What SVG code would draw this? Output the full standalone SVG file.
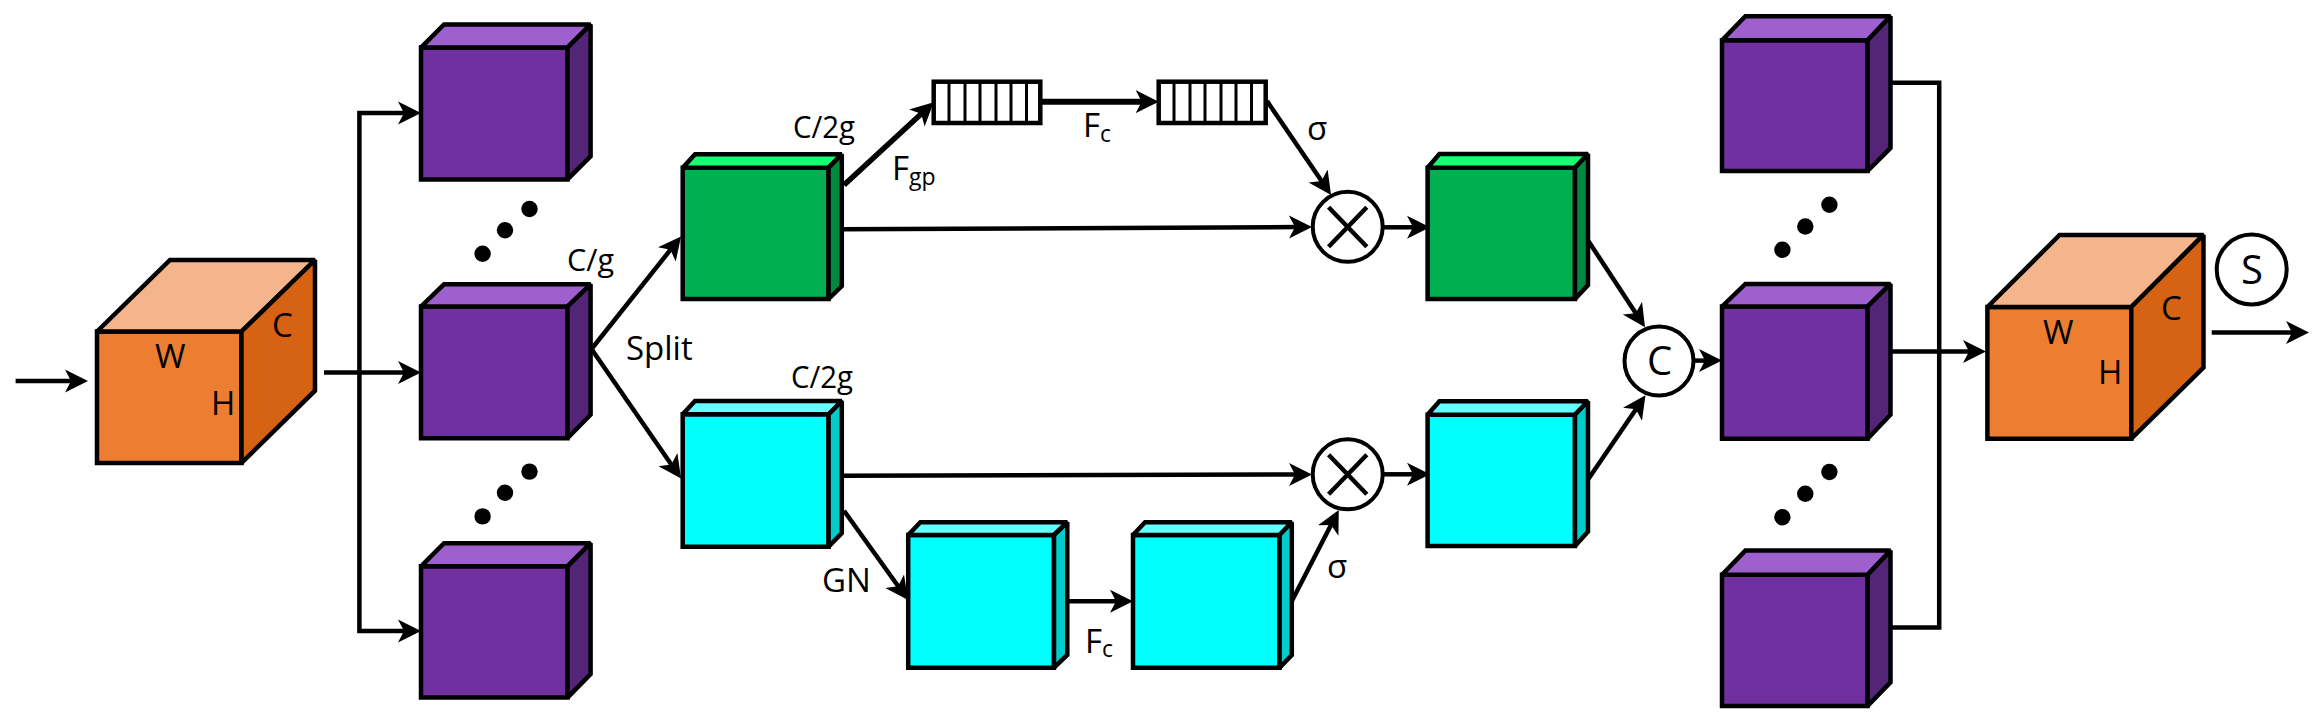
<svg xmlns="http://www.w3.org/2000/svg" width="2321" height="725" viewBox="0 0 2321 725">
<style>
text{font-family:"Open Sans","Noto Sans","DejaVu Sans",sans-serif;fill:#000;font-weight:400}
.s{stroke:#000;stroke-width:4.5;stroke-linejoin:miter;stroke-miterlimit:2}
.pf{fill:#7030A0}.pt{fill:#9E60CC}.pr{fill:#542477}
.of{fill:#ED7D31}.ot{fill:#F4B58C}.or{fill:#D66214}
.gf{fill:#00B050}.gt{fill:#14FF72}.gr{fill:#008A3F}
.cf{fill:#00FFFF}.ct{fill:#66FFFF}.cr{fill:#00CCCC}
.c{fill:none;stroke:#000;stroke-width:4.5}
.a{marker-end:url(#ah)}
.n{fill:#fff;stroke:#000;stroke-width:4}
.t33{font-size:33px}.t31{font-size:31px}.t22{font-size:23px}.t40{font-size:40px}
</style>
<defs>
<marker id="ah" markerUnits="userSpaceOnUse" markerWidth="26" markerHeight="26" refX="8" refY="12" orient="auto" viewBox="0 0 26 26">
<path d="M0 0.5L23 12L0 23.5L6 12Z" fill="#000"/>
</marker>
</defs>
<g id="nodes">
<g id="cube-in">
<path class="s of" d="M97 331.5H241.5V463H97Z"/>
<path class="s ot" d="M97 331.5L170 260H315L241.5 331.5Z"/>
<path class="s or" d="M241.5 331.5L315 260V390.7L241.5 463Z"/>
<text class="t33" x="155" y="367.5">W</text><text class="t33" x="211" y="414.7">H</text><text class="t33" x="272" y="336.6">C</text>
</g>
<g id="split-1">
<path class="s pf" d="M421 47.6H567.5V179.4H421Z"/>
<path class="s pt" d="M421 47.6L444 24.5H590.6L567.5 47.6Z"/>
<path class="s pr" d="M567.5 47.6L590.6 24.5V156.3L567.5 179.4Z"/>
</g>
<g id="split-2">
<path class="s pf" d="M421 306.5H567.5V438.3H421Z"/>
<path class="s pt" d="M421 306.5L444 284.3H590.6L567.5 306.5Z"/>
<path class="s pr" d="M567.5 306.5L590.6 284.3V414.7L567.5 438.3Z"/>
<text class="t31" x="567" y="271" textLength="47" lengthAdjust="spacingAndGlyphs">C/g</text>
</g>
<g id="split-3">
<path class="s pf" d="M421 566.3H567.5V697.6H421Z"/>
<path class="s pt" d="M421 566.3L444 543.2H590.6L567.5 566.3Z"/>
<path class="s pr" d="M567.5 566.3L590.6 543.2V674L567.5 697.6Z"/>
</g>
<g id="dots-left" fill="#000">
<circle cx="482.6" cy="253.8" r="8.2"/><circle cx="505" cy="230.2" r="8.2"/><circle cx="529.5" cy="209" r="8.2"/>
<circle cx="482.6" cy="516.4" r="8.2"/><circle cx="505" cy="492.8" r="8.2"/><circle cx="529.5" cy="471.6" r="8.2"/>
</g>
<g id="green-1">
<path class="s gf" d="M682.7 167.7H828.6V299H682.7Z"/>
<path class="s gt" d="M682.7 167.7L695 154.3H841.8L828.6 167.7Z"/>
<path class="s gr" d="M828.6 167.7L841.8 154.3V286L828.6 299Z"/>
<text class="t31" x="793" y="137.7" textLength="62" lengthAdjust="spacingAndGlyphs">C/2g</text>
</g>
<g id="cyan-1">
<path class="s cf" d="M682.7 414.3H828.6V546.7H682.7Z"/>
<path class="s ct" d="M682.7 414.3L695 401H841.8L828.6 414.3Z"/>
<path class="s cr" d="M828.6 414.3L841.8 401V533L828.6 546.7Z"/>
<text class="t31" x="791" y="388" textLength="62" lengthAdjust="spacingAndGlyphs">C/2g</text>
</g>
<g id="vec-1" class="s" fill="#fff">
<rect x="933.7" y="81.7" width="106.6" height="41.3"/>
<path fill="none" style="stroke-width:3" d="M949 81.7V123M965 81.7V123M980 81.7V123M996 81.7V123M1011 81.7V123M1026.5 81.7V123"/>
</g>
<g id="vec-2" class="s" fill="#fff">
<rect x="1158.7" y="81.7" width="107" height="41.3"/>
<path fill="none" style="stroke-width:3" d="M1174 81.7V123M1190 81.7V123M1205 81.7V123M1221 81.7V123M1236 81.7V123M1251.5 81.7V123"/>
</g>
<g id="cyan-2">
<path class="s cf" d="M908.2 535H1054V667.7H908.2Z"/>
<path class="s ct" d="M908.2 535L920.4 522.3H1067.3L1054 535Z"/>
<path class="s cr" d="M1054 535L1067.3 522.3V655L1054 667.7Z"/>
</g>
<g id="cyan-3">
<path class="s cf" d="M1133 535H1279.6V667.7H1133Z"/>
<path class="s ct" d="M1133 535L1145 522.3H1291.8L1279.6 535Z"/>
<path class="s cr" d="M1279.6 535L1291.8 522.3V655L1279.6 667.7Z"/>
</g>
<g id="mul-1">
<circle class="n" cx="1347.7" cy="226.8" r="35"/>
<path class="c" d="M1328.6 207.3L1366.8 246.7M1366.8 207.3L1328.6 246.7"/>
</g>
<g id="mul-2">
<circle class="n" cx="1347.7" cy="474.3" r="35"/>
<path class="c" d="M1328.6 454.8L1366.8 494.2M1366.8 454.8L1328.6 494.2"/>
</g>
<g id="green-2">
<path class="s gf" d="M1427.6 167.8H1575V299H1427.6Z"/>
<path class="s gt" d="M1427.6 167.8L1439.4 154H1588L1575 167.8Z"/>
<path class="s gr" d="M1575 167.8L1588 154V285L1575 299Z"/>
</g>
<g id="cyan-4">
<path class="s cf" d="M1427.6 414.7H1575V546H1427.6Z"/>
<path class="s ct" d="M1427.6 414.7L1439.4 401.3H1588L1575 414.7Z"/>
<path class="s cr" d="M1575 414.7L1588 401.3V531.7L1575 546Z"/>
</g>
<g id="concat">
<circle class="n" cx="1659" cy="361" r="34.5"/>
<text class="t40" x="1647" y="375.4">C</text>
</g>
<g id="merge-1">
<path class="s pf" d="M1722 40.2H1867.6V171H1722Z"/>
<path class="s pt" d="M1722 40.2L1745.4 16.2H1890.5L1867.6 40.2Z"/>
<path class="s pr" d="M1867.6 40.2L1890.5 16.2V148L1867.6 171Z"/>
</g>
<g id="merge-2">
<path class="s pf" d="M1722 306.5H1867.6V438.7H1722Z"/>
<path class="s pt" d="M1722 306.5L1745.4 283.9H1890.5L1867.6 306.5Z"/>
<path class="s pr" d="M1867.6 306.5L1890.5 283.9V414.7L1867.6 438.7Z"/>
</g>
<g id="merge-3">
<path class="s pf" d="M1722 574.7H1867.6V706H1722Z"/>
<path class="s pt" d="M1722 574.7L1745.4 550.6H1890.5L1867.6 574.7Z"/>
<path class="s pr" d="M1867.6 574.7L1890.5 550.6V682.4L1867.6 706Z"/>
</g>
<g id="dots-right" fill="#000">
<circle cx="1782.4" cy="249.7" r="8.2"/><circle cx="1805.3" cy="226.5" r="8.2"/><circle cx="1829.4" cy="204.8" r="8.2"/>
<circle cx="1782.4" cy="517.3" r="8.2"/><circle cx="1805.3" cy="493.8" r="8.2"/><circle cx="1829.4" cy="472" r="8.2"/>
</g>
<g id="cube-out">
<path class="s of" d="M1987.4 307H2131.3V438.7H1987.4Z"/>
<path class="s ot" d="M1987.4 307L2059.6 234.9H2203.5L2131.3 307Z"/>
<path class="s or" d="M2131.3 307L2203.5 234.9V367.5L2131.3 438.7Z"/>
<text class="t33" x="2043" y="343.5">W</text><text class="t33" x="2098" y="383.7">H</text><text class="t33" x="2161" y="320">C</text>
</g>
<g id="shuffle">
<circle class="n" cx="2251.7" cy="269.5" r="35"/>
<text class="t40" x="2241" y="284">S</text>
</g>
</g>
<g id="connectors">
<path class="c a" d="M15.6 381H73"/>
<path class="c a" d="M324 372.6H406"/>
<path class="c a" d="M359.4 372.6V113H406"/>
<path class="c a" d="M359.4 372.6V631H406"/>
<path class="c a" d="M591.5 349L671.7 248.2"/>
<path class="c a" d="M591.5 349L672.5 466.2"/>
<path class="c a" style="stroke-width:5.5" d="M844 185L922.7 112.5"/>
<path class="c a" style="stroke-width:6" d="M1040 101.7H1143.7"/>
<path class="c a" d="M1267 101L1322.6 182.6"/>
<path class="c a" d="M840 229.3L1297 227"/>
<path class="c a" d="M840 475.7L1297 474.5"/>
<path class="c a" d="M844 510.7L899.3 587.8"/>
<path class="c a" d="M1066 601.3H1118"/>
<path class="c a" d="M1292 600.7L1331.9 523.3"/>
<path class="c a" d="M1383 227.3H1415"/>
<path class="c a" d="M1383 474.3H1415"/>
<path class="c a" d="M1588 240.4L1636.8 314.8"/>
<path class="c a" d="M1588 479.4L1637 407.7"/>
<path class="c a" d="M1693.7 360.6H1707"/>
<path class="c" d="M1889 82.8H1939.2V627.4H1889"/>
<path class="c a" d="M1889 351.4H1971"/>
<path class="c a" d="M2211.7 332.4H2294"/>
</g>
<g id="labels">
<text class="t33" x="626" y="359.7">Split</text>
<text class="t33" x="1083" y="136.7">F</text><text class="t22" x="1100" y="141.7">c</text>
<text class="t33" x="892" y="180">F</text><text class="t22" x="909" y="185">gp</text>
<text class="t33" x="1307" y="140">σ</text>
<text class="t33" x="822" y="591.7">GN</text>
<text class="t33" x="1085" y="652.7">F</text><text class="t22" x="1102" y="657">c</text>
<text class="t33" x="1327" y="578">σ</text>
</g>
</svg>
